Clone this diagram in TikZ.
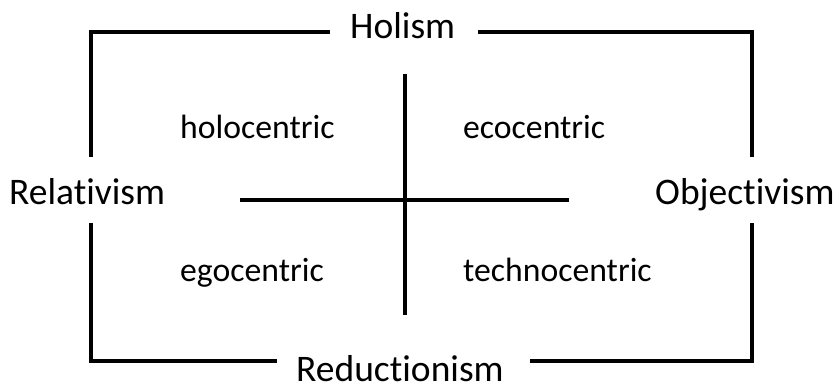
\documentclass[tikz,border=0pt]{standalone}
\usepackage{fontspec}
\setmainfont{Carlito}[Ligatures=NoCommon]
\begin{document}
\begin{tikzpicture}[x=1pt, y=-1pt, line cap=butt,
    frame/.style={line width=4pt, black},
    axis/.style={line width=4pt, black},
    pole/.style={anchor=base west, inner sep=0pt, font=\fontsize{37.5}{40}\selectfont},
    quad/.style={anchor=base west, inner sep=0pt, font=\fontsize{33.7}{36}\selectfont}]
    \useasboundingbox (0,0) rectangle (839,388);

    % 1. Các nhãn ở bốn cực
    \node[pole] (holism) at (350, 38) {Holism};
    \node[pole] (reduct) at (296, 381) {Reductionism};
    \node[pole] (relat) at (9, 204) {Relativism};
    \node[pole] (objec) at (655, 204) {Objectivism};

    % 2. Các nhãn trong bốn góc phần tư
    \node[quad] (holo) at (180, 138) {holocentric};
    \node[quad] (eco) at (463, 138) {ecocentric};
    \node[quad] (ego) at (180, 281) {egocentric};
    \node[quad] (techno) at (463, 281) {technocentric};

    % 3. Tọa độ khung ngoài
    \coordinate (TL) at (91, 32);
    \coordinate (TR) at (752, 32);
    \coordinate (BL) at (91, 361);
    \coordinate (BR) at (752, 361);

    % Khung (bốn góc, hở chỗ các nhãn)
    \draw[frame] (330, 32) -- (TL) -- (91, 157);
    \draw[frame] (478, 32) -- (TR) -- (752, 157);
    \draw[frame] (91, 223) -- (BL) -- (277, 361);
    \draw[frame] (752, 223) -- (BR) -- (530, 361);

    % 4. Hai trục chữ thập
    \coordinate (N) at (405, 74);
    \coordinate (S) at (405, 315);
    \coordinate (W) at (240, 200);
    \coordinate (E) at (569, 200);
    \draw[axis] (N) -- (S);
    \draw[axis] (W) -- (E);
\end{tikzpicture}
\end{document}
